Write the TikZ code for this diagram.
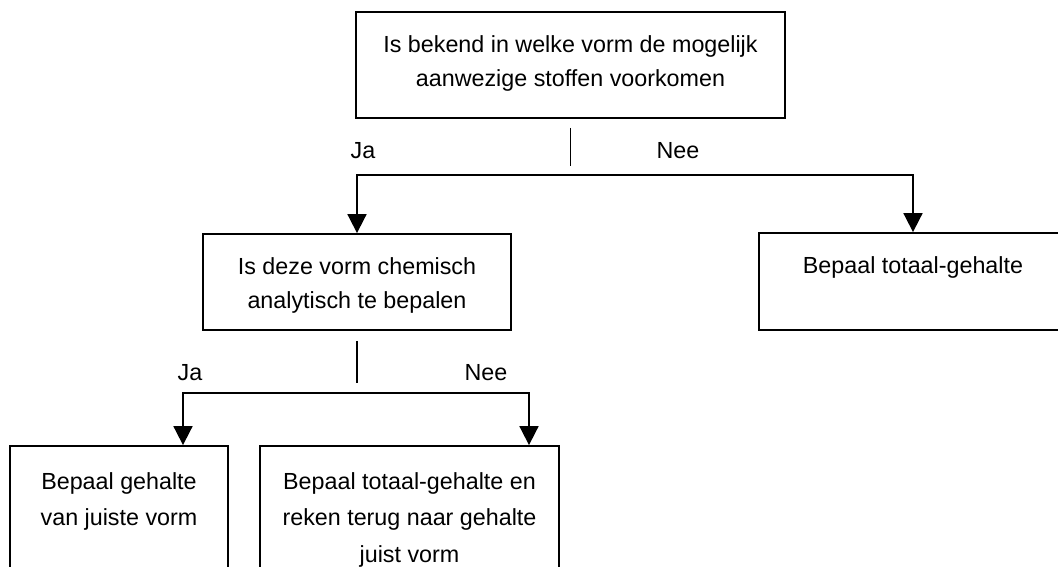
\documentclass[tikz,border=0pt]{standalone}
\usepackage{fontspec}
\setmainfont{Liberation Sans}
\usetikzlibrary{positioning,arrows.meta}

\begin{document}
\begin{tikzpicture}[x=1pt,y=-1pt,
    box/.style={draw=black,line width=1.8pt,inner sep=0pt},
    txt/.style={align=center,inner sep=0pt,font=\fontsize{23.3}{34}\selectfont},
    ruimtxt/.style={txt,font=\fontsize{23.3}{36.5}\selectfont},
    lbl/.style={anchor=base,inner sep=0pt,font=\fontsize{23.3}{34}\selectfont},
    pijl/.style={line width=1.8pt,{Triangle[width=19pt,length=19pt]}-{Triangle[width=19pt,length=19pt]}}]
    \useasboundingbox (0,0) rectangle (1058,567);

    % boxes
    \node[box,minimum width=429pt,minimum height=106pt] (vraag1) at (570.5,65) {};
    \node[box,minimum width=308pt,minimum height=96pt] (vraag2) at (357,282) {};
    \node[box,minimum width=308pt,minimum height=97pt] (totaal) at (913,281.5) {};
    \node[box,minimum width=218pt,minimum height=154pt] (gehalte) at (119,523) {};
    \node[box,minimum width=299pt,minimum height=154pt] (terug) at (409.5,523) {};

    % texts
    \node[txt,below=24pt of vraag1.north] (vraag1txt) {Is bekend in welke vorm de mogelijk\\aanwezige stoffen voorkomen};
    \node[txt,below=24pt of vraag2.north] (vraag2txt) {Is deze vorm chemisch\\analytisch te bepalen};
    \node[txt,below=24pt of totaal.north] (totaaltxt) {Bepaal totaal-gehalte};
    \node[ruimtxt,below=27pt of gehalte.north] (gehaltetxt) {Bepaal gehalte\\van juiste vorm};
    \node[ruimtxt,below=27pt of terug.north] (terugtxt) {Bepaal totaal-gehalte en\\reken terug naar gehalte\\juist vorm};

    % ja / nee
    \node[lbl] (ja1) at (363,159) {Ja};
    \node[lbl] (nee1) at (678,159) {Nee};
    \node[lbl] (ja2) at (190,380) {Ja};
    \node[lbl] (nee2) at (486,380) {Nee};

    % connectors
    \draw[line width=1.8pt] ([yshift=-9pt]vraag1.south) -- ([yshift=-47pt]vraag1.south);
    \draw[pijl] (vraag2.north) -- ++(0,-58) -| (totaal.north);
    \draw[line width=1.8pt] ([yshift=-10pt]vraag2.south) -- ([yshift=-52pt]vraag2.south);
    \draw[pijl] ([xshift=64pt]gehalte.north) -- ++(0,-52) -| ([xshift=119.5pt]terug.north);
\end{tikzpicture}
\end{document}
